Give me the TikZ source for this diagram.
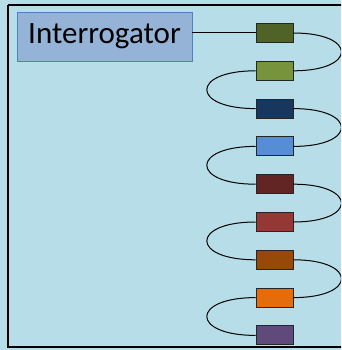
\documentclass[tikz,border=0pt]{standalone}
\usepackage{fontspec}
\setmainfont{Carlito}
\definecolor{bg}{HTML}{B7DEE8}
\definecolor{iface}{HTML}{95B3D7}
\definecolor{iedge}{HTML}{4F81BD}
\definecolor{s1}{HTML}{4F6228}
\definecolor{s2}{HTML}{77933C}
\definecolor{s3}{HTML}{17375E}
\definecolor{s4}{HTML}{558ED5}
\definecolor{s5}{HTML}{632523}
\definecolor{s6}{HTML}{953735}
\definecolor{s7}{HTML}{984807}
\definecolor{s8}{HTML}{E46C0A}
\definecolor{s9}{HTML}{604A7B}
\begin{document}
\begin{tikzpicture}[x=1pt,y=-1pt,
  sensor/.style={draw=black!85,line width=0.9pt,minimum width=37pt,minimum height=19pt,inner sep=0pt},
  fiber/.style={draw=black,line width=1pt}]
\useasboundingbox (0,0) rectangle (341,350);
\fill[bg] (0,0) rectangle (341,350);
% outer frame, open past the right edge
\begin{scope}
\clip (0,0) rectangle (341,350);
\draw[line width=1.6pt] (8,5) -- (8,347) -- (345,347);
\draw[line width=1.6pt] (8,5) -- (345,5);
\end{scope}
\node[draw=iedge,line width=0.8pt,fill=iface,minimum width=175pt,minimum height=49pt,inner sep=0pt,
  font=\fontsize{31}{31}\selectfont] (int) at (104.5,36.5) {Interrogator};
% chain of sensors
\foreach \i [count=\k from 0] in {s1,s2,s3,s4,s5,s6,s7,s8,s9}{
  \node[sensor,fill=\i] (n\k) at (274.5,{33+37.8*\k}) {};
}
\draw[fiber] (int.east |- n0.west) -- (n0.west);
\begin{scope}
\clip (0,0) rectangle (341,350);
\foreach \a/\b in {0/1,2/3,4/5,6/7}{
  \draw[fiber] (n\a.east) .. controls +(64,0) and +(64,0) .. (n\b.east);
}
\foreach \a/\b in {1/2,3/4,5/6,7/8}{
  \draw[fiber] (n\a.west) .. controls +(-65,0) and +(-65,0) .. (n\b.west);
}
\end{scope}
\end{tikzpicture}
\end{document}
